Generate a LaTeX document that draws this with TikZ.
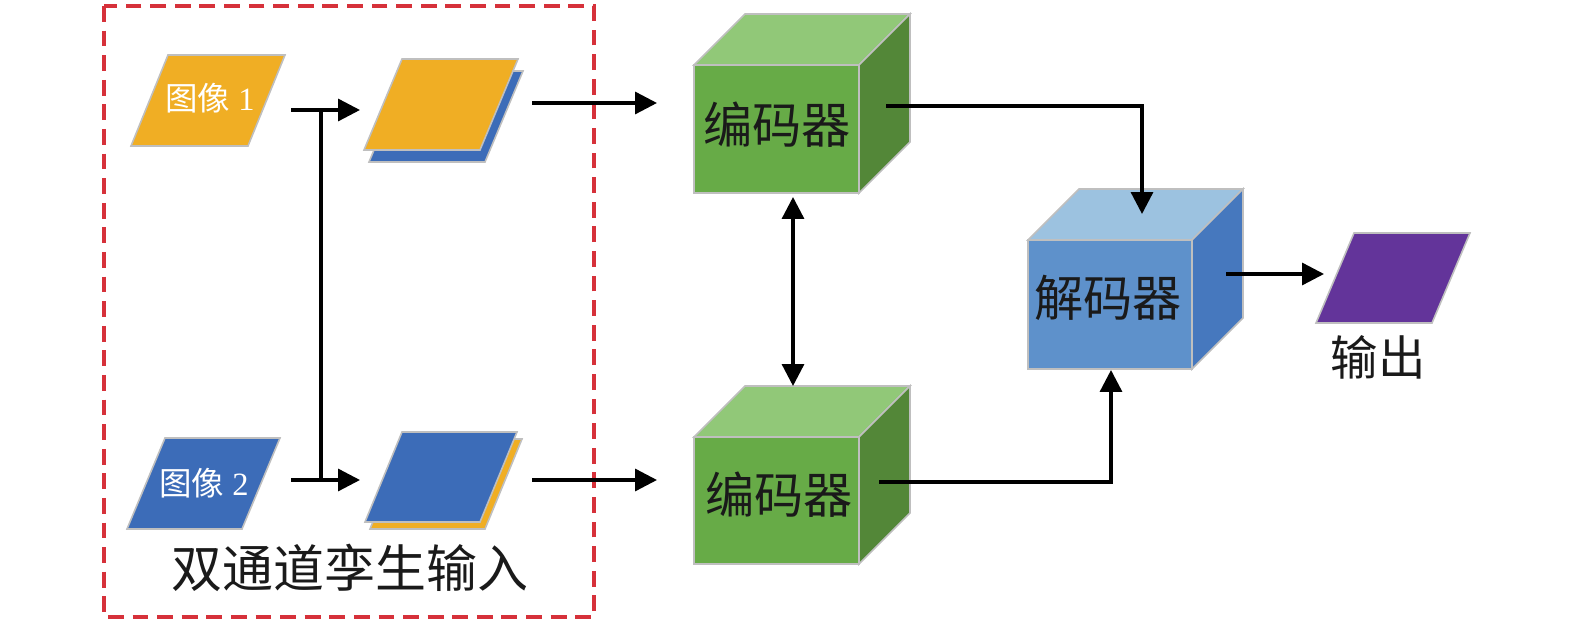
\documentclass[tikz,border=0pt]{standalone}
\usepackage{fontspec}
\setmainfont{Liberation Serif}
\newfontfamily\cjk{Noto Sans CJK SC}
\usetikzlibrary{arrows.meta}
\definecolor{edgegray}{HTML}{BFBFBF}
\definecolor{orangeA}{HTML}{F0AE24}
\definecolor{blueA}{HTML}{3C6CB8}
\definecolor{purpleA}{HTML}{63349A}
\definecolor{gfront}{HTML}{67AB47}
\definecolor{gtop}{HTML}{91C878}
\definecolor{gside}{HTML}{538738}
\definecolor{bfront}{HTML}{5E91CB}
\definecolor{btop}{HTML}{9CC2E0}
\definecolor{bside}{HTML}{4678BE}
\definecolor{boxred}{HTML}{D6313A}
\definecolor{txt}{HTML}{1A1A1A}
\newcommand{\paragram}[6]{%
  \fill[#6, draw=edgegray, line width=0.9pt] (#1,#2) -- ++(#3,0) -- ++(-#5,#4) -- ++(-#3,0) -- cycle;}
\newcommand{\cubebox}[8]{%
  \fill[#6, draw=edgegray, line width=0.9pt] (#1,#2) rectangle ++(#3,#4);
  \fill[#7, draw=edgegray, line width=0.9pt] (#1,#2) -- ++(#5,-#5) -- ++(#3,0) -- ++(-#5,#5) -- cycle;
  \fill[#8, draw=edgegray, line width=0.9pt] (#1+#3,#2) -- ++(#5,-#5) -- ++(0,#4) -- ++(-#5,#5) -- cycle;}
\begin{document}
\begin{tikzpicture}[x=0.02cm, y=-0.02cm,
  conn/.style={line width=1.9pt, draw=black, -{Triangle[length=12.5pt,width=12.5pt]}},
  plain/.style={line width=1.9pt, draw=black},
  dbl/.style={line width=1.9pt, draw=black, {Triangle[length=12.5pt,width=12.5pt]}-{Triangle[length=12.5pt,width=12.5pt]}},
  small/.style={font=\fontsize{18.5pt}{20pt}\selectfont, text=white, inner sep=0pt},
  big/.style={font=\cjk\fontsize{28pt}{30pt}\selectfont, text=txt, inner sep=0pt}]
\useasboundingbox (0,0) rectangle (1575,624);
% dashed group box
\draw[boxred, line width=2pt, dash pattern=on 9pt off 5pt] (104,6) rectangle (594,617);
% input images
\paragram{168}{55}{117}{91}{37}{orangeA}
\node[small] (img1) at (210,98) {{\cjk 图像} 1};
\paragram{165}{438}{115}{91}{38}{blueA}
\node[small] (img2) at (204,483) {{\cjk 图像} 2};
% stacked images
\paragram{407}{71}{116}{91}{38}{blueA}
\paragram{402}{59}{116}{91}{38}{orangeA}
\paragram{407}{439}{115}{90}{37}{orangeA}
\paragram{402}{432}{115}{90}{37}{blueA}
\node[big, font=\cjk\fontsize{29pt}{31pt}\selectfont] (lbl) at (350,568) {双通道孪生输入};
% encoders and decoder
\cubebox{694}{65}{165}{128}{51}{gfront}{gtop}{gside}
\node[big] (enc1) at (777,125) {编码器};
\cubebox{694}{437}{165}{127}{51}{gfront}{gtop}{gside}
\node[big] (enc2) at (779,495) {编码器};
\cubebox{1028}{240}{164}{129}{51}{bfront}{btop}{bside}
\node[big] (dec) at (1108,298) {解码器};
% output
\paragram{1354}{233}{116}{90}{38}{purpleA}
\node[big, font=\cjk\fontsize{27pt}{29pt}\selectfont] (outl) at (1378,357) {输出};
% connector coordinates
\coordinate (a1s) at (291,110);
\coordinate (a1e) at (360,110);
\coordinate (a2s) at (291,480);
\coordinate (a2e) at (360,480);
\coordinate (j1) at (321,110);
\coordinate (j2) at (321,480);
\coordinate (s1o) at (532,103);
\coordinate (e1i) at (657,103);
\coordinate (s2o) at (532,480);
\coordinate (e2i) at (657,480);
\coordinate (e1o) at (886,106);
\coordinate (dtop) at (1142,214);
\coordinate (e2o) at (879,482);
\coordinate (dbot) at (1111,370);
\coordinate (e1b) at (793,197);
\coordinate (e2t) at (793,386);
\coordinate (do) at (1226,274);
\coordinate (oin) at (1324,274);
% connectors
\draw[conn] (a1s) -- (a1e);
\draw[conn] (a2s) -- (a2e);
\draw[plain] (j1) -- (j2);
\draw[conn] (s1o) -- (e1i);
\draw[conn] (s2o) -- (e2i);
\draw[conn] (e1o) -| (dtop);
\draw[conn] (e2o) -| (dbot);
\draw[dbl] (e1b) -- (e2t);
\draw[conn] (do) -- (oin);
\end{tikzpicture}
\end{document}
